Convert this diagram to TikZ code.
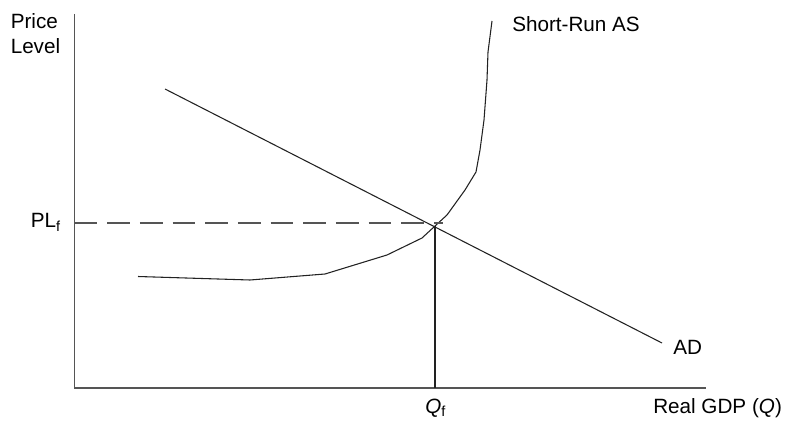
\documentclass[tikz,border=0pt]{standalone}
\usepackage{fontspec}
\setmainfont{Liberation Sans}
\usetikzlibrary{arrows.meta, positioning, calc}
\definecolor{AxisGrey}{HTML}{555555}
\definecolor{CurveInk}{HTML}{222222}

\begin{document}
\begin{tikzpicture}[x=0.75pt, y=-0.75pt, >=Stealth,
    axisline/.style={AxisGrey, line width=1.1pt},
    curveline/.style={CurveInk, line width=0.8pt, line join=round},
    guideline/.style={AxisGrey, line width=1pt, dash pattern=on 17pt off 7.5pt},
    lbl/.style={font=\fontsize{15.5}{18}\selectfont, inner sep=0pt, anchor=base west}]
  \useasboundingbox (0,0) rectangle (785,427);
  % axes
  \coordinate (origin) at (74.5,388);
  \coordinate (ytop) at (74.5,14);
  \coordinate (xend) at (706,388);
  \draw[axisline] (ytop) -- (origin) -- (xend);
  \node[lbl] (pricelbl) at (10.5,29) {Price};
  \node[lbl] (levellbl) at (10.5,54) {Level};
  \node[lbl] (gdplbl) at (653,413) {Real GDP (\textit{Q})};
  % AD line, eq. point at (435,226)
  \coordinate (adtop) at (165,89);
  \coordinate (adend) at (662,343);
  \coordinate (eq) at (435,226);
  \draw[curveline] (adtop) -- (adend);
  \node[lbl] (adlbl) at (673,354) {AD};
  % short-run AS, a broken line as in the source
  \draw[curveline] (138,276.5) -- (250,280) -- (325,274) -- (387,255)
    -- (422,238) -- (eq) -- (447,215) -- (465,190) -- (476,172)
    -- (480,150) -- (484,120) -- (487,80) -- (488,52) -- (492,21);
  \node[lbl] (aslbl) at (512,32) {Short-Run AS};
  % full-employment guides
  \coordinate (plaxis) at (74.5,223);
  \coordinate (qaxis) at (435,388);
  \draw[guideline] (plaxis) -- (443,223);
  \draw[curveline] (eq) -- (qaxis);
  \node[lbl] (pllbl) at (30.5,228) {PL\textsubscript{f}};
  \node[lbl] (qlbl) at (425,413) {\textit{Q}\textsubscript{f}};
\end{tikzpicture}
\end{document}
